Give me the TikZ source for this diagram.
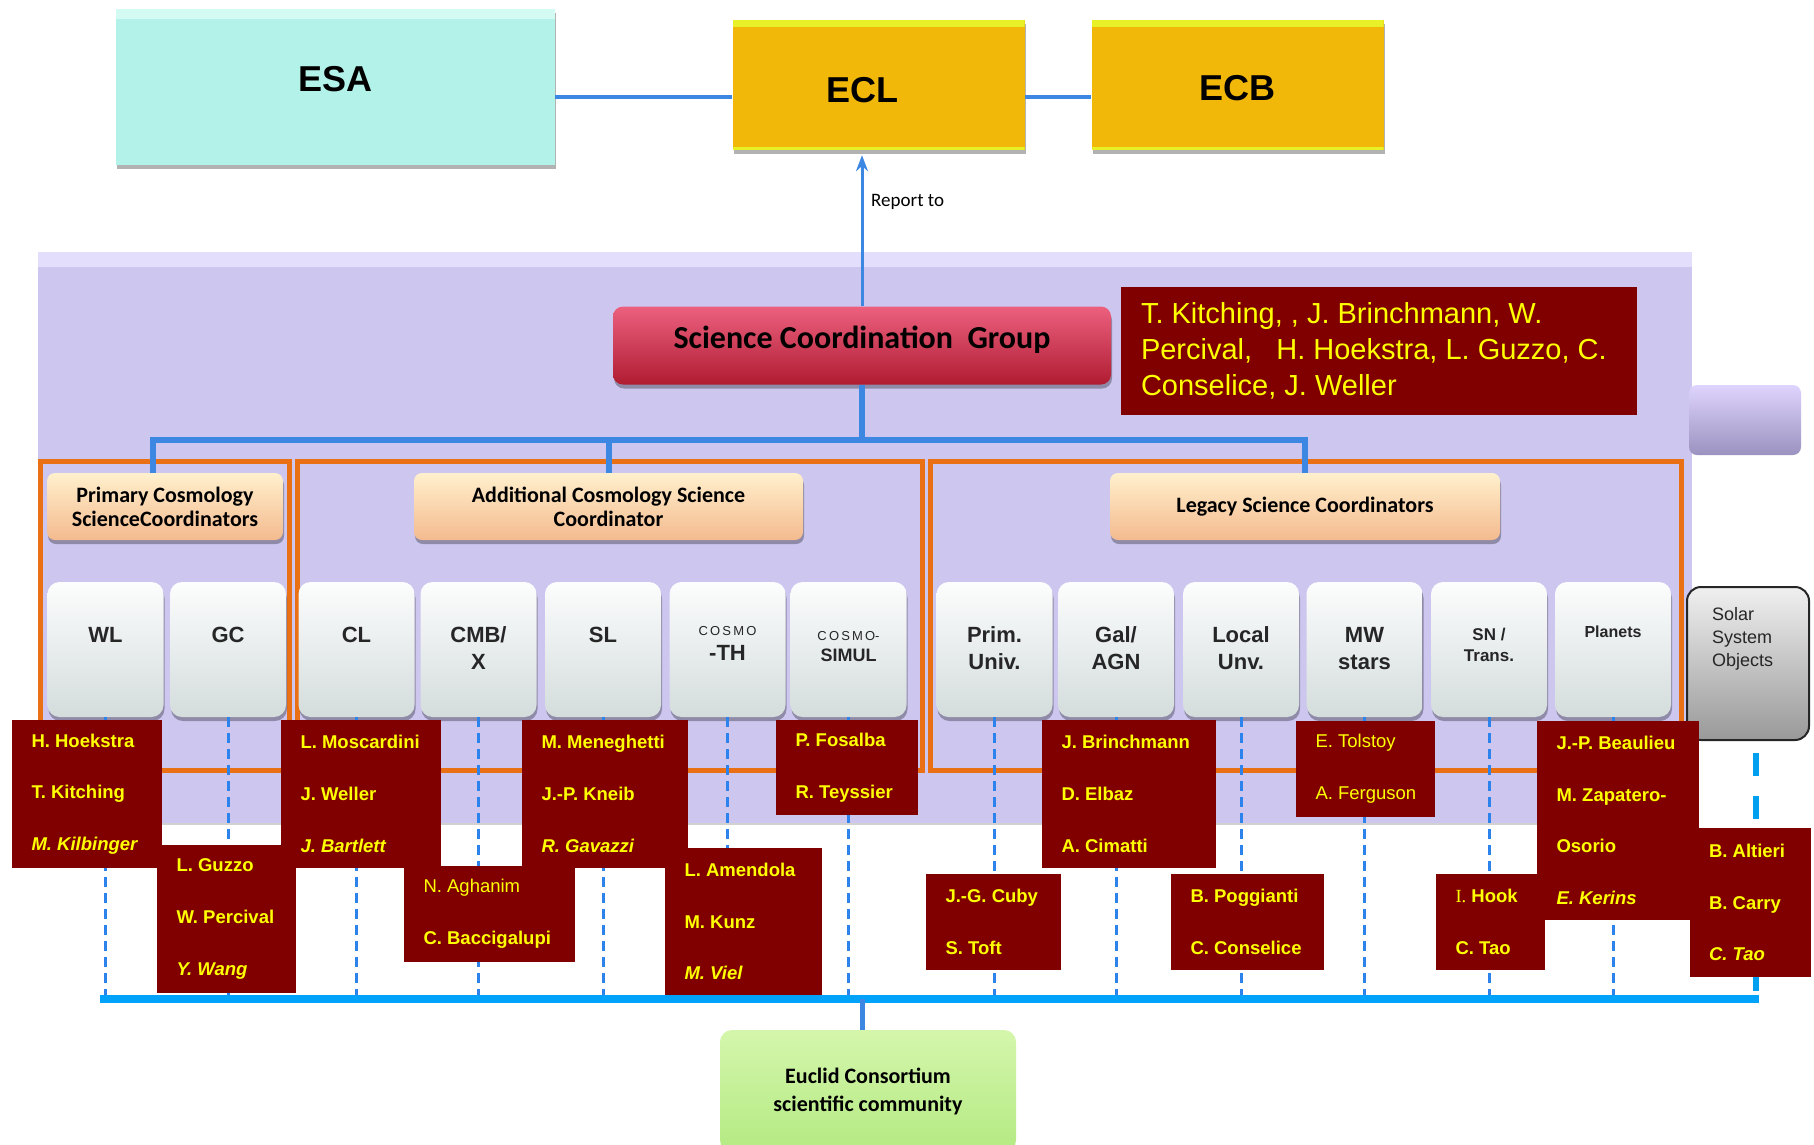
\documentclass[tikz,border=0pt]{standalone}
\usepackage{fontspec}
\setmainfont{Liberation Sans}
\newfontfamily\calfont{Carlito}
\newfontfamily\serfont{Liberation Serif}
\usetikzlibrary{arrows.meta,shadows}

\definecolor{esacol}{RGB}{178,242,232}
\definecolor{esatop}{RGB}{212,250,244}
\definecolor{gold}{RGB}{241,184,10}
\definecolor{goldtop}{RGB}{232,240,40}
\definecolor{panelcol}{RGB}{205,199,240}
\definecolor{paneltop}{RGB}{226,222,251}
\definecolor{sidetop}{RGB}{222,212,253}
\definecolor{sidebot}{RGB}{155,146,192}
\definecolor{scgtop}{RGB}{236,96,126}
\definecolor{scgmid}{RGB}{192,36,62}
\definecolor{scgbot}{RGB}{176,28,50}
\definecolor{maroonbox}{RGB}{128,0,0}
\definecolor{nameyellow}{RGB}{255,255,0}
\definecolor{frameorange}{RGB}{234,112,22}
\definecolor{peachtop}{RGB}{255,240,205}
\definecolor{peachmid}{RGB}{248,200,155}
\definecolor{peach}{RGB}{244,186,142}
\definecolor{silvertop}{RGB}{252,253,253}
\definecolor{silvermid}{RGB}{222,228,228}
\definecolor{silverbot}{RGB}{212,220,220}
\definecolor{linkblue}{RGB}{60,135,225}
\definecolor{barblue}{RGB}{0,162,250}
\definecolor{dashblue}{RGB}{45,130,235}
\definecolor{solarblue}{RGB}{0,160,240}
\definecolor{euctop}{RGB}{212,246,172}
\definecolor{eucgreen}{RGB}{180,234,130}

\tikzset{
  softshadow/.style={drop shadow={shadow xshift=1pt,shadow yshift=-4pt,opacity=.3,fill=black}},
  esabox/.style={rectangle, fill=esacol, minimum width=439pt, minimum height=156pt,
    inner sep=0pt, text depth=16pt, font=\fontsize{36}{40}\selectfont\bfseries, softshadow,
    path picture={\fill[esatop] (path picture bounding box.north west)
      rectangle ([yshift=-10pt]path picture bounding box.north east);}},
  goldbox/.style={rectangle, fill=gold, minimum width=292pt, minimum height=130pt,
    inner sep=0pt, font=\fontsize{36}{40}\selectfont\bfseries, softshadow,
    path picture={\fill[goldtop] (path picture bounding box.north west)
      rectangle ([yshift=-7pt]path picture bounding box.north east);
      \fill[goldtop] (path picture bounding box.south west)
      rectangle ([yshift=3pt]path picture bounding box.south east);}},
  panelbox/.style={rectangle, fill=panelcol, minimum width=1654pt, minimum height=572pt, inner sep=0pt,
    path picture={\fill[paneltop] (path picture bounding box.north west)
      rectangle ([yshift=-15pt]path picture bounding box.north east);
      \draw[black!18, line width=3pt] (path picture bounding box.south west)
      -- (path picture bounding box.south east);}},
  sidebox/.style={rectangle, rounded corners=8pt, top color=sidetop, middle color=sidetop,
    bottom color=sidebot, minimum width=112pt, minimum height=70pt, inner sep=0pt},
  scgbox/.style={rectangle, rounded corners=10pt, top color=scgtop, middle color=scgmid,
    bottom color=scgbot, minimum width=498pt, minimum height=78pt, inner sep=0pt, softshadow,
    text depth=16pt, font=\calfont\fontsize{32}{36}\selectfont\bfseries},
  frame/.style={rectangle, draw=frameorange, line width=5pt, minimum height=309pt, inner sep=0pt},
  coordbox/.style={rectangle, rounded corners=8pt, top color=peachtop, middle color=peachmid,
    bottom color=peach, minimum height=67pt, inner sep=0pt, softshadow, align=center,
    font=\calfont\fontsize{22}{24}\selectfont\bfseries},
  silverbox/.style={rectangle, rounded corners=12pt, top color=silvertop, middle color=silvermid,
    bottom color=silverbot, minimum width=116pt, minimum height=135pt, inner sep=0pt, softshadow},
  slab/.style={font=\fontsize{22}{27}\selectfont\bfseries, align=center, inner sep=0pt, text=black!85},
  slabsmall/.style={font=\fontsize{13}{15}\selectfont, inner sep=0pt, text=black!85},
  solarbox/.style={rectangle, rounded corners=14pt, draw=black!85, line width=2pt,
    top color=black!6, middle color=black!14, bottom color=black!40,
    minimum width=122pt, minimum height=153pt, inner sep=0pt},
  soltext/.style={font=\fontsize{18}{23}\selectfont, align=left, inner sep=0pt, text=black!85},
  who/.style={rectangle, fill=maroonbox, inner sep=0pt},
  whotext/.style={text=nameyellow, font=\fontsize{18.5}{51.7}\selectfont\bfseries,
    align=left, anchor=west, inner sep=0pt},
  bigtext/.style={text=nameyellow, font=\fontsize{29}{36}\selectfont,
    align=left, anchor=west, inner sep=0pt},
  eucbox/.style={rectangle, rounded corners=12pt, top color=euctop, bottom color=eucgreen,
    minimum width=296pt, minimum height=122pt, inner sep=0pt, align=center,
    font=\calfont\fontsize{22}{28}\selectfont\bfseries},
  link/.style={draw=linkblue, line width=4pt},
  tree/.style={draw=linkblue, line width=6pt},
  dashlink/.style={draw=dashblue, line width=3pt, dash pattern=on 10pt off 6pt},
  soldash/.style={draw=solarblue, line width=6pt, dash pattern=on 23pt off 20pt},
}

\begin{document}
\begin{tikzpicture}[x=1pt,y=-1pt]
\useasboundingbox[fill=white] (0,0) rectangle (1814,1144);

% top level bodies
\node[esabox] (esa) at (335.5,87) {ESA};
\node[goldbox, text height=34.5pt] (ecl) at (878.5,85) {ECL\kern32pt};
\node[goldbox, text height=32pt] (ecb) at (1237.5,85) {ECB};
\draw[link] ([yshift=-10pt]esa.east) -- ([yshift=-10pt]esa.east -| ecl.west);
\draw[link] ([yshift=-12pt]ecl.east) -- ([yshift=-12pt]ecl.east -| ecb.west);

% science panel
\node[panelbox] (panel) at (865,538) {};
\node[sidebox] (side) at (1745,420) {};
\node[scgbox] (scg) at (862,345.5) {Science Coordination\ \ Group};
\draw[linkblue, line width=3pt, -{Stealth[length=16pt,width=12pt]}, shorten >=5pt]
  (scg.north) -- (scg.north |- ecl.south);
\node[font=\calfont\fontsize{19}{20}\selectfont, anchor=west, inner sep=0pt] (rep) at (871,202) {Report to};

\node[who, minimum width=516pt, minimum height=128pt] (bign) at (1379,351) {};
\node[bigtext] (bignt) at ([xshift=20pt]bign.west)
  {T. Kitching, , J. Brinchmann, W.\\Percival,\ \ \ H. Hoekstra, L. Guzzo, C.\\Conselice, J. Weller};

% coordinator groups
\node[frame, minimum width=249pt] (g1) at (164.5,615.5) {};
\node[frame, minimum width=625pt] (g2) at (609.5,615.5) {};
\node[frame, minimum width=751pt] (g3) at (1305.5,615.5) {};

\node[coordbox, minimum width=236pt] (pri) at (165,506.5) {Primary Cosmology\\ScienceCoordinators};
\node[coordbox, minimum width=389pt] (add) at (608.5,506.5) {Additional Cosmology Science\\Coordinator};
\node[coordbox, minimum width=390pt] (leg) at (1305,506.5) {Legacy Science Coordinators};

\coordinate (hub) at (862,440);
\draw[tree] (scg.south) -- (hub);
\draw[tree] ([xshift=-12pt]pri.north) |- (hub);
\draw[tree] (leg.north) |- (hub);
\draw[tree] (add.north) -- (add.north |- hub);

% science topics
\node[silverbox] (wl)   at (105.5,649.5) {};
\node[silverbox] (gc)   at (228,649.5) {};
\node[silverbox] (cl)   at (356.5,649.5) {};
\node[silverbox] (cmb)  at (478.5,649.5) {};
\node[silverbox] (sl)   at (603,649.5) {};
\node[silverbox] (th)   at (727.5,649.5) {};
\node[silverbox] (sim)  at (848.5,649.5) {};
\node[silverbox] (prim) at (994.5,649.5) {};
\node[silverbox] (gal)  at (1116,649.5) {};
\node[silverbox] (loc)  at (1241,649.5) {};
\node[silverbox] (mw)   at (1364.5,649.5) {};
\node[silverbox] (sn)   at (1489,649.5) {};
\node[silverbox] (pla)  at (1613,649.5) {};

\node[slab] (wlt)  at ([yshift=-53pt]wl.north) {WL};
\node[slab] (gct)  at ([yshift=-53pt]gc.north) {GC};
\node[slab] (clt)  at ([yshift=-53pt]cl.north) {CL};
\node[slab] (cmbt) at ([yshift=-66.5pt]cmb.north) {CMB/\\X};
\node[slab] (slt)  at ([yshift=-53pt]sl.north) {SL};
\node[slabsmall] (tht1) at ([yshift=-49pt]th.north) {C\,O\,S\,M\,O};
\node[slab] (tht2) at ([yshift=-71pt]th.north) {-TH};
\node[slabsmall] (simt1) at ([yshift=-54pt]sim.north) {C\,O\,S\,M\,O-};
\node[slab, font=\fontsize{18}{20}\selectfont\bfseries] (simt2) at ([yshift=-73pt]sim.north) {SIMUL};
\node[slab] (primt) at ([yshift=-66.5pt]prim.north) {Prim.\\Univ.};
\node[slab] (galt)  at ([yshift=-66.5pt]gal.north) {Gal/\\AGN};
\node[slab] (loct)  at ([yshift=-66.5pt]loc.north) {Local\\Unv.};
\node[slab] (mwt)   at ([yshift=-66.5pt]mw.north) {MW\\stars};
\node[slab, font=\fontsize{17}{21}\selectfont\bfseries] (snt) at ([yshift=-63pt]sn.north) {SN /\\Trans.};
\node[slab, font=\fontsize{16}{20}\selectfont\bfseries] (plat) at ([yshift=-50pt]pla.north) {Planets};

\node[solarbox] (solar) at (1748,663.5) {};
\node[soltext, anchor=north west] (solart) at (1712,607) {Solar\\System\\Objects};

% links down to the community
\coordinate (barL) at (100,999);
\coordinate (barR) at (1759,999);
\foreach \b in {wl,gc,cl,cmb,sl,th,sim,prim,gal,loc,mw,sn,pla}
  \draw[dashlink] (\b.south) -- (\b.south |- barL);
\draw[soldash, shorten <=12pt] ([xshift=8pt]solar.south) -- ([xshift=8pt]solar.south |- barL);

% people
\node[who, minimum width=150pt, minimum height=148pt] (n1) at (87,794) {};
\node[whotext] (n1t) at ([xshift=19.5pt]n1.west) {H. Hoekstra\\T. Kitching\\{\itshape M. Kilbinger}};
\node[who, minimum width=139pt, minimum height=148pt] (n2) at (226.5,919) {};
\node[whotext] (n2t) at ([xshift=19.5pt]n2.west) {L. Guzzo\\W. Percival\\{\itshape Y. Wang}};
\node[who, minimum width=160pt, minimum height=148pt] (n3) at (361,794) {};
\node[whotext] (n3t) at ([xshift=19.5pt]n3.west) {L. Moscardini\\J. Weller\\{\itshape J. Bartlett}};
\node[who, minimum width=171pt, minimum height=96pt] (n4) at (489.5,914) {};
\node[whotext] (n4t) at ([xshift=19.5pt]n4.west) {{\mdseries N. Aghanim}\\C. Baccigalupi};
\node[who, minimum width=166pt, minimum height=148pt] (n5) at (605,794) {};
\node[whotext] (n5t) at ([xshift=19.5pt]n5.west) {M. Meneghetti\\J.-P. Kneib\\{\itshape R. Gavazzi}};
\node[who, minimum width=157pt, minimum height=147pt] (n6) at (743.5,921.5) {};
\node[whotext] (n6t) at ([xshift=19.5pt]n6.west) {L. Amendola\\M. Kunz\\{\itshape M. Viel}};
\node[who, minimum width=142pt, minimum height=95pt] (n7) at (847,767.5) {};
\node[whotext] (n7t) at ([xshift=19.5pt]n7.west) {P. Fosalba\\R. Teyssier};
\node[who, minimum width=135pt, minimum height=96pt] (n8) at (993.5,922) {};
\node[whotext] (n8t) at ([xshift=19.5pt]n8.west) {J.-G. Cuby\\S. Toft};
\node[who, minimum width=174pt, minimum height=148pt] (n9) at (1129,794) {};
\node[whotext] (n9t) at ([xshift=19.5pt]n9.west) {J. Brinchmann\\D. Elbaz\\A. Cimatti};
\node[who, minimum width=153pt, minimum height=96pt] (n10) at (1247.5,922) {};
\node[whotext] (n10t) at ([xshift=19.5pt]n10.west) {B. Poggianti\\C. Conselice};
\node[who, minimum width=139pt, minimum height=96pt] (n11) at (1365.5,769) {};
\node[whotext] (n11t) at ([xshift=19.5pt]n11.west) {{\mdseries E. Tolstoy}\\{\mdseries A. Ferguson}};
\node[who, minimum width=109pt, minimum height=96pt] (n12) at (1490.5,922) {};
\node[whotext] (n12t) at ([xshift=19.5pt]n12.west) {{\serfont\mdseries I.} Hook\\C. Tao};
\node[who, minimum width=162pt, minimum height=199pt] (n13) at (1618,820.5) {};
\node[who, minimum width=121pt, minimum height=149pt] (n14) at (1750.5,902.5) {};
\node[whotext] (n13t) at ([xshift=19.5pt]n13.west) {J.-P. Beaulieu\\M. Zapatero-\\Osorio\\{\itshape E. Kerins}};
\node[whotext] (n14t) at ([xshift=19pt]n14.west) {B. Altieri\\B. Carry\\{\itshape C. Tao}};

% community
\draw[line width=8pt, draw=barblue] (barL) -- (barR);
\node[eucbox] (euc) at (868,1091) {Euclid Consortium\\scientific community};
\draw[linkblue, line width=5pt] (hub |- barL) -- (hub |- euc.north);
\end{tikzpicture}
\end{document}
